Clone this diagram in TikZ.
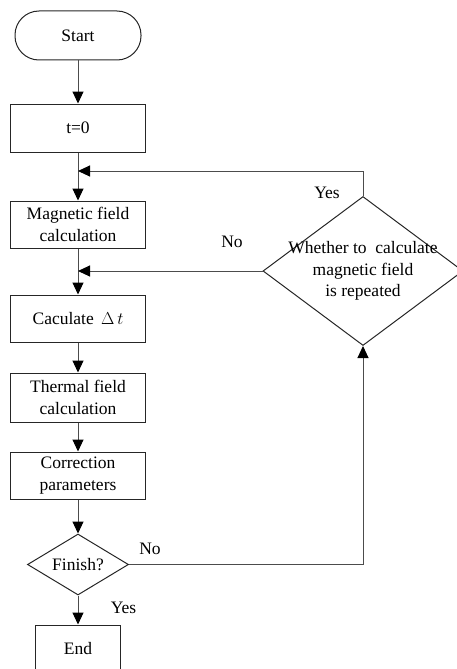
\documentclass[tikz,border=0pt]{standalone}
\usepackage{fontspec}
\setmainfont{Liberation Serif}
\usetikzlibrary{shapes.geometric,arrows.meta}
\begin{document}
\begin{tikzpicture}[x=1pt,y=-1pt,>={Triangle[length=12pt,width=11pt,color=black]},line width=1pt,
		font=\fontsize{17.5}{21.5}\selectfont]
			\useasboundingbox (0,0) rectangle (456,669);
			\begin{scope}[every node/.style={rectangle,draw=black!85,align=center,minimum width=135pt,minimum height=47pt,inner sep=2pt}]
			\node[rounded corners=24pt,minimum width=126pt,minimum height=49pt] (start) at (78,35.5) {Start};
			
			\node[minimum height=48pt] 	(t0) at (78,128) 	{t=0};
			\node 			(mag) at (78,224.5) 	{Magnetic field\\calculation};
			\node 			(dt) at (78,318.5) 	{Caculate \,$\Delta\,t$};
			\node[minimum height=49pt] 	(therm) at (78,397.5) 	{Thermal field\\calculation};
			\node 			(corr) at (78,475.5) 	{Correction\\parameters};
			
			\node[diamond,minimum width=101pt,minimum height=61pt,inner sep=-20pt] (fin) at (78,564.5) {Finish?};
			
			\node[minimum width=85pt] 	(end) at (78,648.5) 	{End};
			
			\node[diamond,minimum width=200pt,minimum height=149pt,inner sep=-20pt] (rep) at (363,271) {Whether to~ calculate\\magnetic field\\is repeated};
			\end{scope}
			
			\coordinate (j1) at (78,171);
			\coordinate (j2) at (78,271);
			
			\node (yes1) at (327,193) {Yes};
			\node (no1) at (232,242) {No};
			\node (no2) at (150,549) {No};
			\node (yes2) at (123.5,608) {Yes};
			
			\begin{scope}[draw=black!70]
			\path [->] (start) edge (t0);
			\path [->] (t0) edge (mag);
			\path [->] (mag) edge (dt);
			\path [->] (dt) edge (therm);
			\path [->] (therm) edge (corr);
			\path [->] (corr) edge (fin);
			\path [->] (fin) edge (end);
			
			\draw [->] (fin.east) -| (rep.south);
			\draw [->] (rep.north) |- (j1);
			\draw [->] (rep.west) -- (j2);
			\end{scope}
		\end{tikzpicture}
\end{document}
